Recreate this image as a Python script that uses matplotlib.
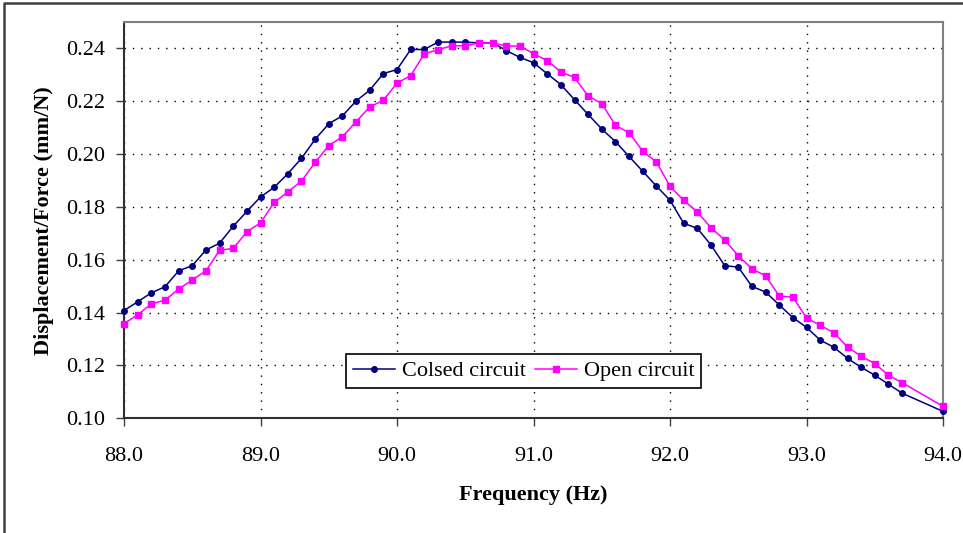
import numpy as np
import matplotlib
matplotlib.use('Agg')
import matplotlib.pyplot as plt
from matplotlib.lines import Line2D

plt.rcParams['font.family'] = ['Liberation Serif', 'DejaVu Serif']

# frequency points (Hz)
freq = [88.0, 88.1, 88.2, 88.3, 88.4, 88.5, 88.6, 88.7, 88.8, 88.9,
        89.0, 89.1, 89.2, 89.3, 89.4, 89.5, 89.6, 89.7, 89.8, 89.9,
        90.0, 90.1, 90.2, 90.3, 90.4, 90.5, 90.6, 90.7, 90.8, 90.9,
        91.0, 91.1, 91.2, 91.3, 91.4, 91.5, 91.6, 91.7, 91.8, 91.9,
        92.0, 92.1, 92.2, 92.3, 92.4, 92.5, 92.6, 92.7, 92.8, 92.9,
        93.0, 93.1, 93.2, 93.3, 93.4, 93.5, 93.6, 93.7, 94.0]

# closed circuit response (mm/N)
closed = [0.1408, 0.1441, 0.1475, 0.1498, 0.1558, 0.1578, 0.1637, 0.1663, 0.1727, 0.1783,
          0.1838, 0.1874, 0.1926, 0.1984, 0.2056, 0.2115, 0.2145, 0.2201, 0.2242, 0.2305,
          0.2320, 0.2396, 0.2396, 0.2424, 0.2424, 0.2424, 0.2421, 0.2421, 0.2392, 0.2366,
          0.2346, 0.2304, 0.2263, 0.2206, 0.2150, 0.2095, 0.2047, 0.1991, 0.1935, 0.1879,
          0.1825, 0.1738, 0.1719, 0.1656, 0.1578, 0.1572, 0.1499, 0.1478, 0.1429, 0.1381,
          0.1344, 0.1296, 0.1269, 0.1227, 0.1193, 0.1163, 0.1129, 0.1095, 0.1026]

# open circuit response (mm/N)
opened = [0.1358, 0.1392, 0.1433, 0.1447, 0.1489, 0.1524, 0.1558, 0.1636, 0.1643, 0.1706,
          0.1740, 0.1817, 0.1857, 0.1898, 0.1969, 0.2032, 0.2066, 0.2123, 0.2178, 0.2204,
          0.2269, 0.2297, 0.2380, 0.2395, 0.2410, 0.2410, 0.2421, 0.2421, 0.2409, 0.2409,
          0.2380, 0.2354, 0.2311, 0.2290, 0.2220, 0.2191, 0.2109, 0.2081, 0.2011, 0.1970,
          0.1878, 0.1825, 0.1781, 0.1721, 0.1675, 0.1615, 0.1566, 0.1539, 0.1463, 0.1458,
          0.1380, 0.1352, 0.1324, 0.1270, 0.1235, 0.1207, 0.1163, 0.1135, 0.1045]

xticks = [88.0, 89.0, 90.0, 91.0, 92.0, 93.0, 94.0]
yticks = [0.10, 0.12, 0.14, 0.16, 0.18, 0.20, 0.22, 0.24]

fig = plt.figure(figsize=(9.63, 5.33), dpi=100)
ax = fig.add_axes([0.1288, 0.2152, 0.8505, 0.7435])

ax.plot(freq, closed, color='#000080', lw=1.1, marker='o', ms=4, label='Colsed circuit',
        clip_on=False, zorder=3)
ax.plot(freq, opened, color='#FF00FF', lw=1.1, marker='s', ms=4, label='Open circuit',
        clip_on=False, zorder=3)

ax.set_xlim(88, 94)
ax.set_ylim(0.10, 0.25)
ax.set_xticks(xticks)
ax.set_yticks(yticks)
ax.set_xticklabels(['%.1f' % t for t in xticks])
ax.set_yticklabels(['%.2f' % t for t in yticks])
ax.tick_params(axis='both', labelsize=16, direction='out', length=5.5, width=1, color='#404040')
ax.tick_params(axis='x', pad=15)
ax.tick_params(axis='y', pad=8)

ax.grid(True, color='black', linestyle=(0, (1, 5)), linewidth=1)

for side in ['top', 'right']:
    ax.spines[side].set_color('#808080')
    ax.spines[side].set_linewidth(1.5)
for side in ['left', 'bottom']:
    ax.spines[side].set_color('#303030')
    ax.spines[side].set_linewidth(1.5)

ax.set_xlabel('Frequency (Hz)', fontsize=16, fontweight='bold', labelpad=13.5)
ax.set_ylabel('Displacement/Force (mm/N)', fontsize=16, fontweight='bold', labelpad=9)

leg = ax.legend(loc='center', bbox_to_anchor=(0.488, 0.119), ncol=2, fontsize=16,
                fancybox=False, framealpha=1, edgecolor='black', handlelength=1.9,
                handletextpad=0.3, columnspacing=0.4, borderpad=0.3, borderaxespad=0)
leg.get_frame().set_linewidth(1.2)
leg.set_zorder(5)

# outer chart border (left and top visible)
fig.add_artist(Line2D([0.0042, 0.0042, 1.0], [0.0, 0.9953, 0.9953],
                      transform=fig.transFigure, color='#404040', lw=1.8))

plt.savefig('out.png', dpi=100)
